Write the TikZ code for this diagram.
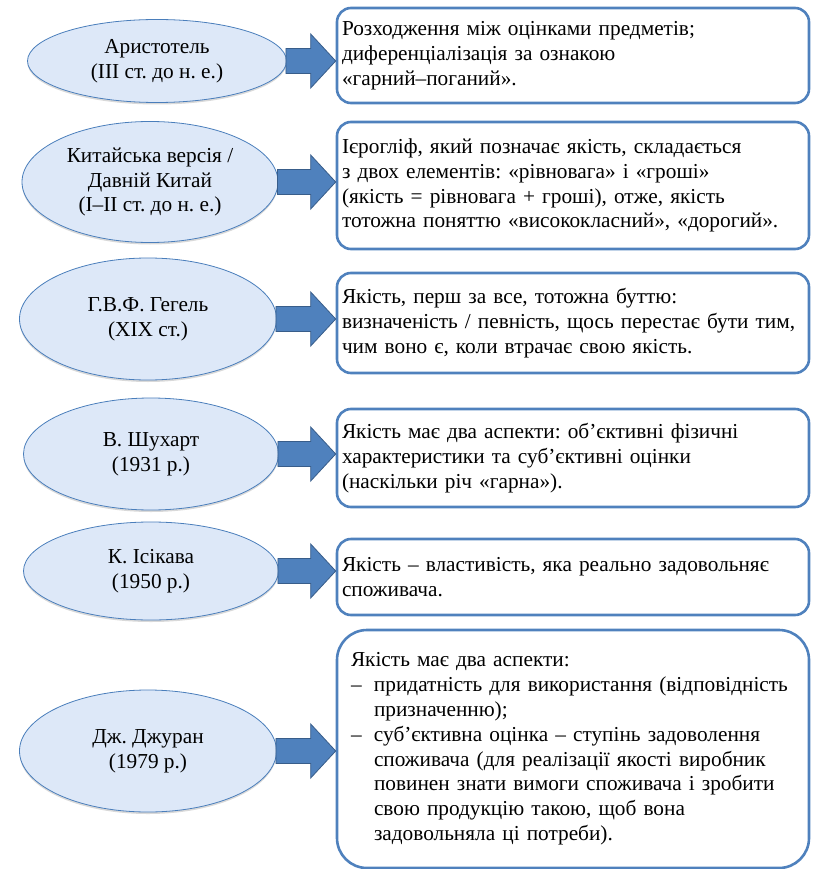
\documentclass[tikz,border=0pt]{standalone}
\usepackage{fontspec}
\setmainfont{Liberation Serif}
\usetikzlibrary{shapes.geometric,shadows,calc}

\definecolor{ellfill}{HTML}{DDE8F8}
\definecolor{ellline}{HTML}{4A7EBB}
\definecolor{arrfill}{HTML}{4F81BD}
\definecolor{arrline}{HTML}{385D8A}
\definecolor{boxline}{HTML}{4F81BD}

\tikzset{
  person/.style={ellipse, draw=ellline, fill=ellfill, line width=0.8pt, align=center,
    inner sep=0pt, drop shadow={opacity=0.3, shadow xshift=0pt, shadow yshift=-2pt}},
  idea/.style={draw=boxline, line width=2.6pt, rounded corners=14pt, align=left,
    text width=462pt, inner xsep=5pt, inner ysep=0pt},
  blockarr/.style={fill=arrfill, draw=arrline, line width=0.8pt, line join=miter}
}

% fat arrow from an ellipse to its box
\newcommand{\blockarrow}[2]{%
  \draw[blockarr] ($(#1.east)+(-1,-12.5)$)
    -- ($(#2.west |- #1.east)+(-25,-12.5)$) -- ($(#2.west |- #1.east)+(-25,-27)$)
    -- (#2.west |- #1.east)
    -- ($(#2.west |- #1.east)+(-25,27)$) -- ($(#2.west |- #1.east)+(-25,12.5)$)
    -- ($(#1.east)+(-1,12.5)$) -- cycle;}

\newcommand{\dashitem}{\makebox[23pt][l]{–}}

\begin{document}
\frenchspacing
\begin{tikzpicture}[x=1pt,y=-1pt,font=\fontsize{21.3}{24.8}\selectfont]
   \useasboundingbox (0,0) rectangle (816,869);

   \node[person, minimum width=259pt, minimum height=83pt]  (e1) at (157,61)  {Аристотель\\(III ст. до н. е.)};
   \node[person, minimum width=256pt, minimum height=121pt] (e2) at (150,182) {Китайська версія /\\Давній Китай\\(I–II ст. до н. е.)};
   \node[person, minimum width=257pt, minimum height=122pt] (e3) at (148,319) {Г.В.Ф. Гегель\\(XIX ст.)};
   \node[person, minimum width=255pt, minimum height=112pt] (e4) at (151,454) {В. Шухарт\\(1931 р.)};
   \node[person, minimum width=255pt, minimum height=98pt]  (e5) at (151,571) {К. Ісікава\\(1950 р.)};
   \node[person, minimum width=257pt, minimum height=122pt] (e6) at (148,751) {Дж. Джуран\\(1979 р.)};

   \node[idea, minimum height=95pt]  (b1) at (573,55.5) {Розходження між оцінками предметів;\\диференціалізація за ознакою\\«гарний–поганий».};
   \node[idea, minimum height=127pt] (b2) at (573,185.5) {Ієрогліф, який позначає якість, складається\\з двох елементів: «рівновага» і «гроші»\\(якість = рівновага + гроші), отже, якість\\тотожна поняттю «висококласний», «дорогий».};
   \node[idea, minimum height=100pt] (b3) at (573,323) {Якість, перш за все, тотожна буттю:\\визначеність / певність, щось перестає бути тим,\\чим воно є, коли втрачає свою якість.};
   \node[idea, minimum height=98pt]  (b4) at (573,458) {Якість має два аспекти: об’єктивні фізичні\\характеристики та суб’єктивні оцінки\\(наскільки річ «гарна»).};
   \node[idea, minimum height=76pt]  (b5) at (573,577) {Якість – властивість, яка реально задовольняє\\споживача.};
   \node[idea, minimum height=238pt, rounded corners=30pt, text width=444pt, inner xsep=14pt] (b6) at (573,749)
     {Якість має два аспекти:\\
      \dashitem придатність для використання (відповідність\\
      \hspace*{23pt}призначенню);\\
      \dashitem суб’єктивна оцінка – ступінь задоволення\\
      \hspace*{23pt}споживача (для реалізації якості виробник\\
      \hspace*{23pt}повинен знати вимоги споживача і зробити\\
      \hspace*{23pt}свою продукцію такою, щоб вона\\
      \hspace*{23pt}задовольняла ці потреби).};

   \foreach \i in {1,...,6} {\blockarrow{e\i}{b\i}}
\end{tikzpicture}
\end{document}
